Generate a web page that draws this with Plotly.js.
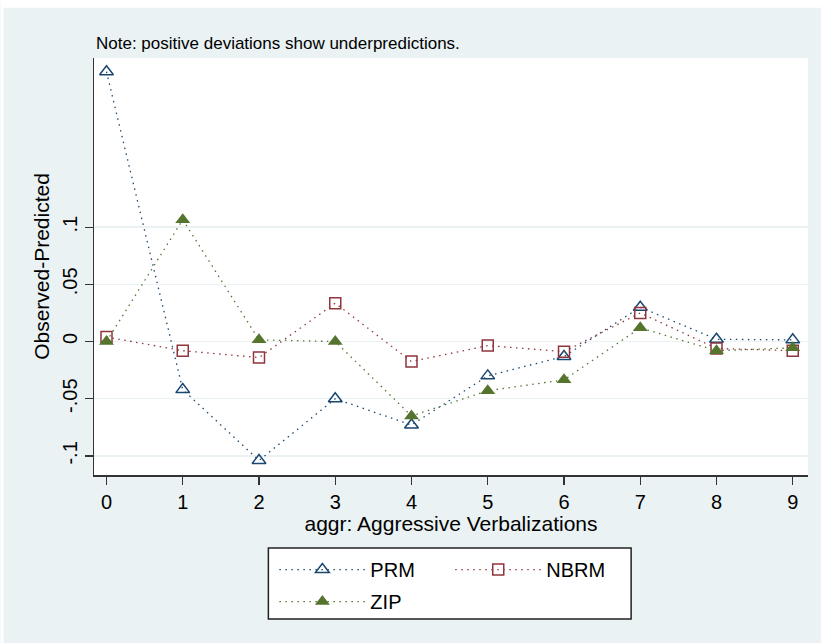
<!DOCTYPE html>
<html>
<head>
<meta charset="utf-8">
<script src="https://cdn.plot.ly/plotly-3.0.1.min.js"></script>
<style>html,body{margin:0;padding:0;background:#fff;}#chart{width:821px;height:643px;}</style>
</head>
<body>
<div id="chart"></div>
<script>
// ---- data ----
var categories = [0, 1, 2, 3, 4, 5, 6, 7, 8, 9];
var prm  = [0.236, -0.042, -0.104, -0.050, -0.073, -0.030, -0.013, 0.030, 0.002, 0.0015];
var nbrm = [0.004, -0.008, -0.014, 0.0336, -0.0175, -0.0035, -0.0088, 0.025, -0.006, -0.008];
var zip  = [0.000, 0.1066, 0.0015, 0.000, -0.065, -0.043, -0.0335, 0.012, -0.008, -0.0055];
var yTickVals = [-0.1, -0.05, 0, 0.05, 0.1];
var yTickText = ['-.1', '-.05', '0', '.05', '.1'];
var seriesNames = ['PRM', 'NBRM', 'ZIP'];

// ---- layout helpers (pixel -> paper) ----
var W = 821, H = 643;
var M = {l: 93.5, r: 13, t: 58.3, b: 168};
var pw = W - M.l - M.r, ph = H - M.t - M.b;
function px(x) { return (x - M.l) / pw; }
function py(y) { return (H - M.b - y) / ph; }

var FONT = 'Arial, "Liberation Sans", sans-serif';
var navy = '#1a476f', maroon = '#90353b', green = '#55752f';

var traces = [
  {x: categories, y: prm, name: seriesNames[0], type: 'scatter', mode: 'lines+markers',
   line: {color: navy, width: 1.3, dash: '1.5px,4.5px'},
   marker: {symbol: 'triangle-up-open', size: 12, color: navy, line: {width: 1.5, color: navy}},
   legend: 'legend', legendgroup: 'a'},
  {x: categories, y: nbrm, name: seriesNames[1], type: 'scatter', mode: 'lines+markers',
   line: {color: maroon, width: 1.3, dash: '1.5px,4.5px'},
   marker: {symbol: 'square-open', size: 11, color: maroon, line: {width: 1.5, color: maroon}},
   legend: 'legend2'},
  {x: categories, y: zip, name: seriesNames[2], type: 'scatter', mode: 'lines+markers',
   line: {color: green, width: 1.3, dash: '1.5px,4.5px'},
   marker: {symbol: 'triangle-up', size: 13, color: green, line: {width: 0}},
   legend: 'legend', legendgroup: 'b'}
];

var layout = {
  width: W, height: H,
  margin: M,
  paper_bgcolor: '#eaf2f3',
  plot_bgcolor: '#ffffff',
  font: {family: FONT, color: '#000'},
  showlegend: true,
  xaxis: {
    range: [-0.164, 9.2], tickvals: categories, ticks: 'outside', ticklen: 8, tickwidth: 1.3,
    tickcolor: '#333', showline: true, linecolor: '#333', linewidth: 1.5, showgrid: false,
    zeroline: false, tickfont: {size: 20, family: FONT},
    title: {text: 'aggr: Aggressive Verbalizations', font: {size: 21, family: FONT}, standoff: 4}
  },
  yaxis: {
    range: [-0.1167, 0.248], tickvals: yTickVals, ticktext: yTickText, ticks: 'outside', ticklen: 8,
    tickwidth: 1.3, tickcolor: '#333', showline: true, linecolor: '#333', linewidth: 1.5,
    showgrid: true, gridcolor: '#eaf2f3', gridwidth: 1.5, zeroline: false, tickangle: -90,
    tickfont: {size: 20, family: FONT},
    title: {text: 'Observed-Predicted', font: {size: 21, family: FONT}, standoff: 3}
  },
  legend: {x: px(274), xanchor: 'left', y: py(550), yanchor: 'top', orientation: 'v',
    bgcolor: 'rgba(0,0,0,0)', borderwidth: 0, font: {size: 20, family: FONT}, itemwidth: 86,
    tracegroupgap: 3},
  legend2: {x: px(450), xanchor: 'left', y: py(550), yanchor: 'top', orientation: 'v',
    bgcolor: 'rgba(0,0,0,0)', borderwidth: 0, font: {size: 20, family: FONT}, itemwidth: 86},
  shapes: [
    {type: 'rect', xref: 'paper', yref: 'paper', x0: px(268), x1: px(631), y0: py(619), y1: py(548),
     fillcolor: '#ffffff', line: {color: '#222', width: 1.5}, layer: 'below'},
    {type: 'rect', xref: 'paper', yref: 'paper', x0: px(0), x1: px(W), y0: py(0), y1: py(8),
     fillcolor: '#ffffff', line: {width: 0}, layer: 'below'},
    {type: 'rect', xref: 'paper', yref: 'paper', x0: px(0), x1: px(3), y0: py(H), y1: py(0),
     fillcolor: '#ffffff', line: {width: 0}, layer: 'below'}
  ],
  annotations: [
    {text: 'Note: positive deviations show underpredictions.', xref: 'paper', yref: 'paper',
     x: px(94), xanchor: 'left', y: py(44), yanchor: 'middle', showarrow: false,
     font: {size: 17, family: FONT, color: '#000'}}
  ]
};

Plotly.newPlot('chart', traces, layout, {displayModeBar: false, staticPlot: true});
</script>
</body>
</html>
